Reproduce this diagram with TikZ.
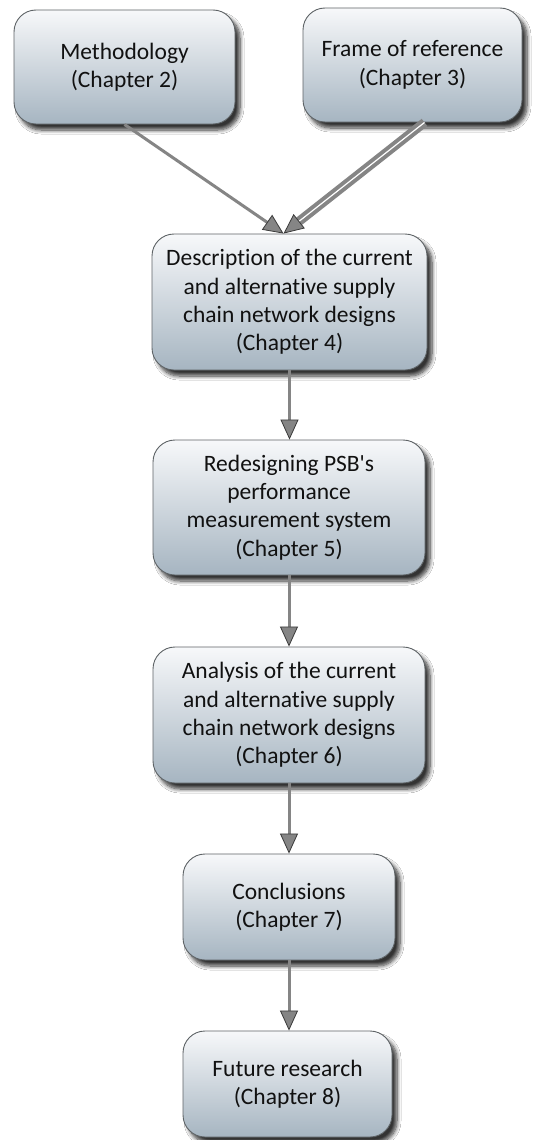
\documentclass[tikz,border=0pt]{standalone}
\usepackage{fontspec}
\setmainfont{Carlito}[Ligatures=NoCommon]
\usetikzlibrary{arrows.meta,shadows.blur,calc}
\definecolor{boxtop}{HTML}{F7F8FA}
\definecolor{boxbot}{HTML}{A6B5C1}
\definecolor{boxline}{HTML}{5E6366}
\definecolor{linkgray}{HTML}{858585}
\definecolor{headedge}{HTML}{3A3A3A}
\definecolor{txt}{HTML}{111111}
\tikzset{
  chapbox/.style={rectangle, rounded corners=22pt, draw=boxline, line width=0.9pt,
    top color=boxtop, bottom color=boxbot, align=center, text=txt,
    font=\fontsize{23.5pt}{28.4pt}\selectfont, inner sep=0pt,
    blur shadow={shadow xshift=5pt, shadow yshift=-6pt, shadow blur radius=4pt,
      shadow blur steps=8, shadow opacity=80}},
  link/.style={draw=linkgray, line width=3pt,
    -{Triangle[length=20pt,width=18pt,fill=linkgray,line width=0.8pt,color=headedge]}},
  dlink/.style={draw=linkgray, line width=4pt, double=white, double distance=1.2pt,
    -{Triangle[length=20pt,width=18pt,fill=linkgray,line width=0.8pt,color=headedge]}}
}
\begin{document}
\begin{tikzpicture}[x=1pt,y=-1pt]
  \useasboundingbox[fill=white] (0,0) rectangle (542,1140);

  \node[chapbox, minimum width=221pt, minimum height=114pt] (m) at (124.5,67) {Methodology\\(Chapter 2)};
  \node[chapbox, minimum width=219pt, minimum height=114pt] (f) at (412.5,65) {Frame of reference\\(Chapter 3)};
  \node[chapbox, minimum width=275pt, minimum height=136pt] (c4) at (289.5,302) {Description of the current\\and alternative supply\\chain network designs\\(Chapter 4)};
  \node[chapbox, minimum width=272pt, minimum height=135pt] (c5) at (289,507.5) {Redesigning PSB\textquotesingle s\\performance\\measurement system\\(Chapter 5)};
  \node[chapbox, minimum width=272pt, minimum height=136pt] (c6) at (289,715) {Analysis of the current\\and alternative supply\\chain network designs\\(Chapter 6)};
  \node[chapbox, minimum width=212pt, minimum height=106pt] (c7) at (289,907) {Conclusions\\(Chapter 7)};
  \node[chapbox, minimum width=209pt, minimum height=106pt] (c8) at (287.5,1084) {Future research\\(Chapter 8)};

  \coordinate (fout) at ($(f.south)+(12,0)$);
  \coordinate (c4in) at ($(c4.north)+(-6,0)$);
  \draw[link] (m.south) -- (c4in);
  \draw[dlink] (fout) -- (c4in);
  \draw[link] (c4.south) -- (c4.south |- c5.north);
  \draw[link] (c5.south) -- (c5.south |- c6.north);
  \draw[link] (c6.south) -- (c6.south |- c7.north);
  \draw[link] (c7.south) -- (c7.south |- c8.north);
\end{tikzpicture}
\end{document}
